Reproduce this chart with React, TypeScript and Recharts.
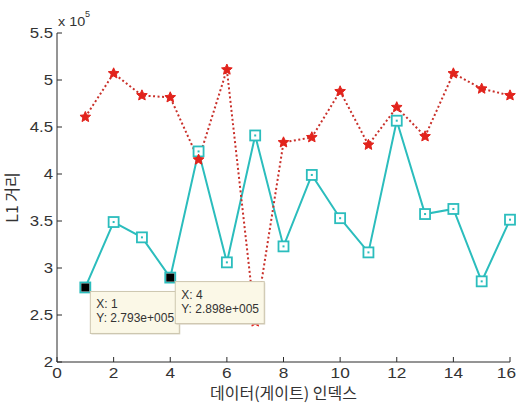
import React from 'react'
import { LineChart, Line, XAxis, YAxis, ReferenceDot } from 'recharts'

const gateIndex = [1, 2, 3, 4, 5, 6, 7, 8, 9, 10, 11, 12, 13, 14, 15, 16]
const redValues = [460600, 507000, 483600, 481500, 415200, 511000, 243000, 433600, 439000, 487900, 431000, 471000, 440000, 507000, 490700, 483600]
const cyanValues = [279300, 348900, 332600, 289800, 424000, 306000, 441000, 323000, 399000, 353000, 316600, 456700, 357400, 362800, 285800, 351400]
const xTicks = [0, 2, 4, 6, 8, 10, 12, 14, 16]
const yTicks = [200000, 250000, 300000, 350000, 400000, 450000, 500000, 550000]
const tipX = [1, 4]
const tipY = [279300, 289800]

const CHART_W = 517
const AXIS = '#2b2b2b'
const TEXT = '#333'
const RED = '#e2231c'
const CYAN = '#2bbdbd'
const KO_FONT = '"Noto Sans CJK KR", "Liberation Sans", sans-serif'
const LAT_FONT = 'Liberation Sans, Arial, sans-serif'

const data = gateIndex.map((x, i) => ({ x, red: redValues[i], cyan: cyanValues[i] }))

const fmtY = (v: number) => String(v / 100000)
const fmtTip = (v: number) => {
  const [m, e] = v.toExponential(3).split('e')
  const sign = e.startsWith('-') ? '-' : '+'
  return `${m}e${sign}${e.replace(/[+-]/, '').padStart(3, '0')}`
}

const LeftTick = ({ x, y, payload }: any) => (
  <g>
    <line x1={x} x2={x + 5} y1={y} y2={y} stroke={AXIS} />
    <text transform={`translate(${x - 4},${y + 5}) scale(1.2,1)`} textAnchor="end" fontSize={14} fill={TEXT} fontFamily={LAT_FONT}>
      {fmtY(payload.value)}
    </text>
  </g>
)

const BottomTick = ({ x, y, payload }: any) => {
  // keep the last label ("16") inside the picture
  const label = String(payload.value)
  const half = label.length * 4.8
  const tx = Math.min(x, CHART_W - 1 - half)
  return (
    <g>
      <line x1={x} x2={x} y1={y} y2={y - 5} stroke={AXIS} />
      <text transform={`translate(${tx},${y + 16}) scale(1.15,1)`} textAnchor="middle" fontSize={15} fill={TEXT} fontFamily={LAT_FONT}>
        {label}
      </text>
    </g>
  )
}

const TopTick = ({ x, y }: any) => <line x1={x} x2={x} y1={y} y2={y + 5} stroke={AXIS} />
const RightTick = ({ x, y }: any) => <line x1={x} x2={x - 5} y1={y} y2={y} stroke={AXIS} />

const StarDot = (props: any) => {
  const { cx, cy, index } = props
  const pts: string[] = []
  for (let k = 0; k < 10; k++) {
    const r = k % 2 === 0 ? 5.6 : 2.6
    const a = -Math.PI / 2 + (k * Math.PI) / 5
    pts.push(`${cx + r * Math.cos(a)},${cy + r * Math.sin(a)}`)
  }
  return <polygon key={`star-${index}`} points={pts.join(' ')} fill={RED} stroke={RED} strokeWidth={1} />
}

const SquareDot = (props: any) => {
  const { cx, cy, index } = props
  return (
    <g key={`sq-${index}`}>
      <rect x={cx - 5} y={cy - 5} width={10} height={10} fill="#fff" stroke={CYAN} strokeWidth={1.8} />
      <rect x={cx - 1} y={cy - 1} width={2} height={2} fill={CYAN} />
    </g>
  )
}

const DataTip = ({ cx, cy, xv, yv }: any) => (
  <g>
    <rect x={cx - 4} y={cy - 4} width={8} height={8} fill="#000" />
    <rect x={cx + 6} y={cy + 5} width={89} height={42} fill="#d8d4c4" />
    <rect x={cx + 5} y={cy + 4} width={89} height={42} fill="#fbf8e7" stroke="#cdc6ae" />
    <text x={cx + 11} y={cy + 21} fontSize={12} fill={TEXT} fontFamily={LAT_FONT}>{`X: ${xv}`}</text>
    <text x={cx + 11} y={cy + 35} fontSize={12} fill={TEXT} fontFamily={LAT_FONT}>{`Y: ${fmtTip(yv)}`}</text>
  </g>
)

const renderYLabel = (props: any) => {
  const vb = props.viewBox
  const cy = vb.y + vb.height / 2
  return (
    <g>
      <text transform={`translate(${vb.x + 18},${cy}) rotate(-90)`} textAnchor="middle" fontSize={16} fill={TEXT} fontFamily={KO_FONT}>
        L1 거리
      </text>
      <text transform={`translate(${vb.x + vb.width + 1},${vb.y - 7}) scale(1.2,1)`} fontSize={12} fill={TEXT} fontFamily={LAT_FONT}>
        x 10
      </text>
      <text x={vb.x + vb.width + 28} y={vb.y - 16} fontSize={9} fill={TEXT} fontFamily={LAT_FONT}>
        5
      </text>
    </g>
  )
}

const renderXLabel = (props: any) => {
  const vb = props.viewBox
  return (
    <text x={vb.x + vb.width / 2} y={vb.y + 37} textAnchor="middle" fontSize={16} fill={TEXT} fontFamily={KO_FONT}>
      데이터(게이트) 인덱스
    </text>
  )
}

export default function App() {
  return (
    <div style={{ position: 'absolute', left: 0, top: 0, width: CHART_W, height: 405, background: '#fff' }}>
      <LineChart width={CHART_W} height={405} data={data} margin={{ top: 33, right: 7, bottom: 0, left: 0 }}>
        <XAxis
          dataKey="x"
          type="number"
          domain={[0, 16]}
          ticks={xTicks}
          interval={0}
          height={43}
          tickSize={0}
          tickMargin={0}
          axisLine={{ stroke: AXIS }}
          tickLine={false}
          tick={BottomTick}
          label={renderXLabel}
        />
        <XAxis
          xAxisId="top"
          orientation="top"
          type="number"
          domain={[0, 16]}
          ticks={xTicks}
          interval={0}
          height={0}
          tickSize={0}
          tickMargin={0}
          axisLine={{ stroke: AXIS }}
          tickLine={false}
          tick={TopTick}
        />
        <YAxis
          type="number"
          domain={[200000, 550000]}
          ticks={yTicks}
          interval={0}
          width={57}
          tickSize={0}
          tickMargin={0}
          axisLine={{ stroke: AXIS }}
          tickLine={false}
          tick={LeftTick}
          label={renderYLabel}
        />
        <YAxis
          yAxisId="right"
          orientation="right"
          type="number"
          domain={[200000, 550000]}
          ticks={yTicks}
          interval={0}
          width={0}
          tickSize={0}
          tickMargin={0}
          axisLine={{ stroke: AXIS }}
          tickLine={false}
          tick={RightTick}
        />
        <Line
          dataKey="cyan"
          type="linear"
          stroke={CYAN}
          strokeWidth={2}
          dot={SquareDot}
          activeDot={false}
          isAnimationActive={false}
        />
        <Line
          dataKey="red"
          type="linear"
          stroke="#c9302a"
          strokeWidth={2}
          strokeDasharray="2 2.5"
          dot={StarDot}
          activeDot={false}
          isAnimationActive={false}
        />
        {tipX.map((tx, i) => (
          <ReferenceDot
            key={`tip-${tx}`}
            x={tx}
            y={tipY[i]}
            r={4}
            shape={(p: any) => <DataTip cx={p.cx} cy={p.cy} xv={tx} yv={tipY[i]} />}
          />
        ))}
      </LineChart>
    </div>
  )
}
